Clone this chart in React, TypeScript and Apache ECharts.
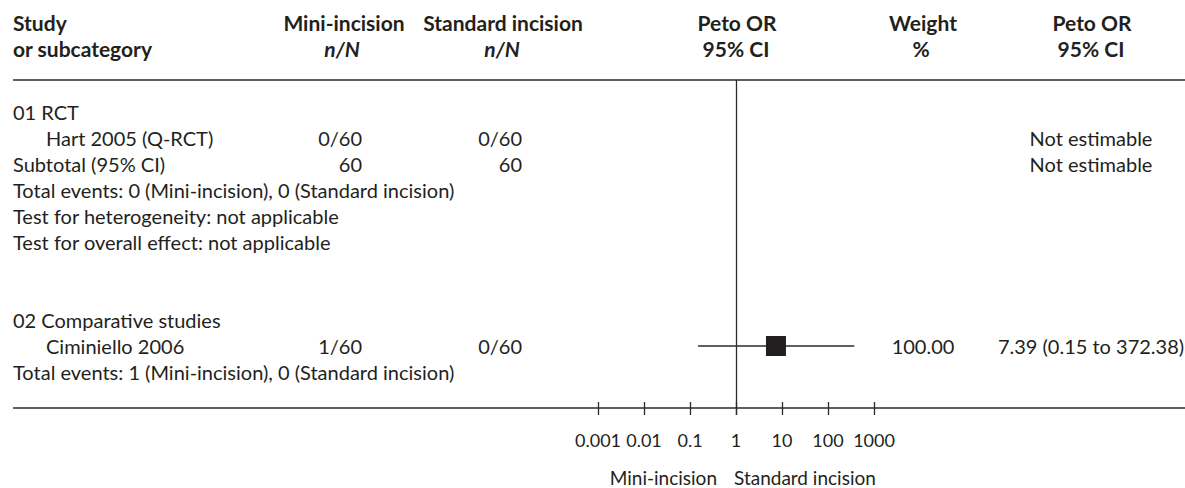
import React, { useEffect, useRef } from "react";
import * as echarts from "echarts";

// ---- data ----
const rowLabels = [
  "01 RCT",
  "Hart 2005 (Q-RCT)",
  "Subtotal (95% CI)",
  "Total events: 0 (Mini-incision), 0 (Standard incision)",
  "Test for heterogeneity: not applicable",
  "Test for overall effect: not applicable",
  "",
  "",
  "02 Comparative studies",
  "Ciminiello 2006",
  "Total events: 1 (Mini-incision), 0 (Standard incision)",
];
const rowIndent = [0, 1, 0, 0, 0, 0, 0, 0, 0, 1, 0];
const miniCol = ["", "0/60", "60", "", "", "", "", "", "", "1/60", ""];
const standardCol = ["", "0/60", "60", "", "", "", "", "", "", "0/60", ""];
const weightCol = ["", "", "", "", "", "", "", "", "", "100.00", ""];
const effectCol = ["", "Not estimable", "Not estimable", "", "", "", "", "", "", "7.39 (0.15 to 372.38)", ""];

const studyRows = [9];
const studyOR = [7.39];
const studyLow = [0.15];
const studyHigh = [372.38];

const tickValues = [0.001, 0.01, 0.1, 1, 10, 100, 1000];
const tickLabels = ["0.001", "0.01", "0.1", "1", "10", "100", "1000"];
const favoursLeft = "Mini-incision";
const favoursRight = "Standard incision";

const TXT = "#231f20";
const FONT = 'Lato, "Noto Sans", sans-serif';
const FS = 20;
const FS_HEAD = 21;
const ROW0 = 112;
const ROWH = 26;
const rowY = (k: number) => ROW0 + ROWH * k;

function txt(text: string, x: number, y: number, align: string, bold = false, italic = false, size = FS) {
  return {
    type: "text",
    x,
    y,
    silent: true,
    style: {
      text,
      fill: TXT,
      fontFamily: FONT,
      fontSize: size,
      lineHeight: size - 2,
      fontWeight: bold ? "bold" : "normal",
      fontStyle: italic ? "italic" : "normal",
      align,
      verticalAlign: "middle",
    },
  };
}

export default function App() {
  const ref = useRef<HTMLDivElement>(null);
  useEffect(() => {
    if (!ref.current) return;
    const chart = echarts.init(ref.current, undefined, { renderer: "svg" });

    const graphics: any[] = [
      txt("Study", 13, 22, "left", true, false, FS_HEAD),
      txt("or subcategory", 13, 48, "left", true, false, FS_HEAD),
      txt("Mini-incision", 344, 22, "center", true, false, FS_HEAD),
      txt("n/N", 342, 48, "center", true, true, FS_HEAD),
      txt("Standard incision", 503, 22, "center", true, false, FS_HEAD),
      txt("n/N", 502, 48, "center", true, true, FS_HEAD),
      txt("Peto OR", 737, 22, "center", true, false, FS_HEAD),
      txt("95% CI", 736, 48, "center", true, false, FS_HEAD),
      txt("Weight", 923, 22, "center", true, false, FS_HEAD),
      txt("%", 921, 48, "center", true, false, FS_HEAD),
      txt("Peto OR", 1092, 22, "center", true, false, FS_HEAD),
      txt("95% CI", 1091, 48, "center", true, false, FS_HEAD),
      {
        type: "line",
        silent: true,
        shape: { x1: 13, y1: 80, x2: 1185, y2: 80 },
        style: { stroke: "#2b2b2b", lineWidth: 1.5 },
      },
      {
        type: "line",
        silent: true,
        shape: { x1: 13, y1: 408, x2: 1185, y2: 408 },
        style: { stroke: "#2b2b2b", lineWidth: 1.5 },
      },
      txt(favoursLeft, 717, 477, "right", false, false, 19),
      txt(favoursRight, 734, 477, "left", false, false, 19),
    ];

    rowLabels.forEach((label, k) => {
      const y = rowY(k);
      if (label) graphics.push(txt(label, rowIndent[k] ? 46 : 13, y, "left"));
      if (miniCol[k]) graphics.push(txt(miniCol[k], 362, y, "right"));
      if (standardCol[k]) graphics.push(txt(standardCol[k], 522, y, "right"));
      if (weightCol[k]) graphics.push(txt(weightCol[k], 923, y, "center"));
      if (effectCol[k]) graphics.push(txt(effectCol[k], 1091, y, "center"));
    });

    const yMin = (80 - ROW0) / ROWH;
    const yMax = yMin + (415 - 80) / ROWH;

    chart.setOption({
      animation: false,
      grid: { left: 598, width: 276, top: 80, bottom: 488 - 415, containLabel: false },
      xAxis: {
        type: "log",
        logBase: 10,
        min: tickValues[0],
        max: tickValues[tickValues.length - 1],
        interval: 1,
        axisLine: { show: false, onZero: false },
        axisTick: { show: true, inside: true, length: 13, lineStyle: { color: "#2b2b2b", width: 1.3 } },
        splitLine: { show: false },
        axisLabel: {
          color: TXT,
          fontFamily: FONT,
          fontSize: 18,
          margin: 16,
          formatter: (v: number) => {
            const e = Math.round(Math.log10(v));
            const i = tickValues.findIndex((t) => Math.round(Math.log10(t)) === e);
            return i >= 0 ? tickLabels[i] : "";
          },
        },
      },
      yAxis: {
        type: "value",
        inverse: true,
        min: yMin,
        max: yMax,
        show: false,
      },
      graphic: graphics,
      series: [
        {
          type: "custom",
          silent: true,
          clip: false,
          data: studyRows.map((r, i) => [studyOR[i], studyLow[i], studyHigh[i], r]),
          encode: { x: [0, 1, 2], y: 3 },
          renderItem: (params: any, api: any) => {
            const or = api.value(0);
            const lo = api.value(1);
            const hi = api.value(2);
            const row = api.value(3);
            const pLo = api.coord([lo, row]);
            const pHi = api.coord([hi, row]);
            const pC = api.coord([or, row]);
            const s = 20;
            return {
              type: "group",
              children: [
                {
                  type: "line",
                  shape: { x1: pLo[0], y1: pLo[1], x2: pHi[0], y2: pHi[1] },
                  style: { stroke: "#2b2b2b", lineWidth: 1.3 },
                },
                {
                  type: "rect",
                  shape: { x: pC[0] - s / 2, y: pC[1] - s / 2, width: s, height: s },
                  style: { fill: "#231f20" },
                },
              ],
            };
          },
          markLine: {
            silent: true,
            symbol: "none",
            label: { show: false },
            lineStyle: { color: "#2b2b2b", width: 1.3, type: "solid" },
            data: [{ xAxis: 1 }],
          },
        },
      ],
    });
    return () => chart.dispose();
  }, []);
  return (
    <div
      ref={ref}
      style={{ position: "fixed", left: 0, top: 0, width: 1185, height: 488, background: "#fff" }}
    />
  );
}
